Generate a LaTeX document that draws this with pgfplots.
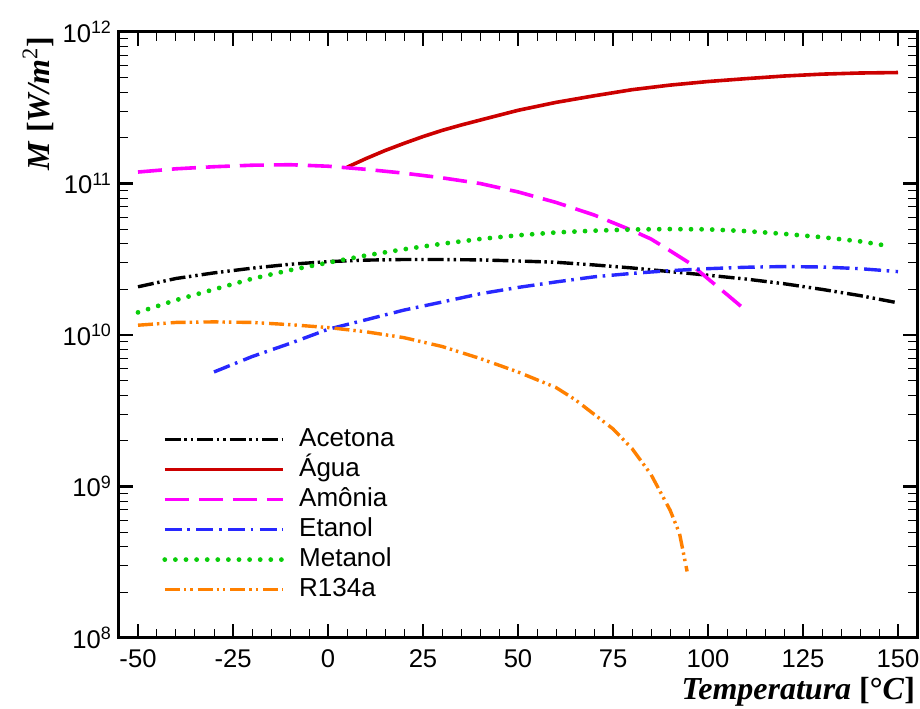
\documentclass[border=0pt]{standalone}
\usepackage{fontspec}
\setmainfont{Liberation Sans}
\newfontfamily\timesfont{Liberation Serif}
\usepackage{pgfplots}
\pgfplotsset{compat=1.18}

\definecolor{cred}{RGB}{204,0,0}
\definecolor{cmag}{RGB}{255,0,255}
\definecolor{cblue}{RGB}{40,40,255}
\definecolor{cgreen}{RGB}{10,205,10}
\definecolor{corange}{RGB}{255,128,0}

\begin{document}
\begin{tikzpicture}
\path[use as bounding box] (-59.5pt,-35pt) rectangle (400.5pt,319pt);
\begin{axis}[
  name=ax, at={(0,0)}, anchor=south west,
  scale only axis, width=399pt, height=303pt,
  ymode=log,
  xmin=-55, xmax=155, ymin=1e8, ymax=1e12,
  xtick={-50,-25,...,150},
  xticklabels={-50,-25,0,25,50,75,100,125,150},
  minor x tick num=4,
  ytick={1e8,1e9,1e10,1e11,1e12},
  yticklabels={10\textsuperscript{8},10\textsuperscript{9},10\textsuperscript{10},10\textsuperscript{11},10\textsuperscript{12}},
  tick label style={font=\fontsize{12.8}{15}\selectfont},
  xticklabel style={yshift=-2.5pt},
  axis line style={line width=1.5pt},
  major tick length=7pt, minor tick length=4.5pt,
  every major tick/.append style={line width=1.2pt, black},
  every minor tick/.append style={line width=0.5pt, black},
  legend cell align=left,
  legend style={draw=none, fill=none, at={(rel axis cs:0,0)}, anchor=south west,
    xshift=18.5pt, yshift=15.5pt, row sep=2pt,
    font=\fontsize{13}{15}\selectfont,
    nodes={inner ysep=0pt, text height=10pt, text depth=3pt},
    /tikz/every odd column/.append style={column sep=5pt}},
  legend image code/.code={\draw[#1] (0pt,0pt) -- (59pt,0pt);},
]
\addplot[black, line width=1.7pt, dash pattern=on 8pt off 1.8pt on 1.2pt off 2pt on 1.2pt off 2pt] coordinates {
(-50,2.08e10) (-40,2.36e10) (-30,2.57e10) (-20,2.76e10) (-10,2.93e10) (0,3.05e10) (10,3.12e10) (20,3.15e10) (30,3.15e10) (40,3.13e10) (50,3.08e10) (60,3.02e10) (70,2.90e10) (80,2.77e10) (90,2.62e10) (100,2.48e10) (110,2.34e10) (120,2.18e10) (130,2.00e10) (140,1.82e10) (150,1.63e10)};
\addlegendentry{Acetona}
\addplot[cred, line width=1.8pt] coordinates {
(5,1.28e11) (10,1.46e11) (15,1.65e11) (20,1.84e11) (25,2.04e11) (30,2.24e11) (35,2.43e11) (40,2.62e11) (50,3.04e11) (60,3.43e11) (70,3.79e11) (80,4.16e11) (90,4.46e11) (100,4.71e11) (110,4.92e11) (120,5.12e11) (130,5.27e11) (140,5.36e11) (150,5.40e11)};
\addlegendentry{Água}
\addplot[cmag, line width=1.8pt, dash pattern=on 12pt off 5pt] coordinates {
(-50,1.19e11) (-40,1.25e11) (-30,1.29e11) (-20,1.32e11) (-10,1.33e11) (0,1.30e11) (10,1.24e11) (20,1.17e11) (30,1.09e11) (40,1.0e11) (50,8.8e10) (60,7.5e10) (70,6.2e10) (80,4.9e10) (85,4.3e10) (90,3.6e10) (95,3.0e10) (100,2.35e10) (105,1.85e10) (110,1.45e10)};
\addlegendentry{Amônia}
\addplot[cblue, line width=1.7pt, dash pattern=on 8.5pt off 2.8pt on 1.3pt off 3.2pt] coordinates {
(-30,5.7e9) (-20,7.2e9) (-10,8.8e9) (0,1.09e10) (10,1.26e10) (20,1.46e10) (30,1.65e10) (40,1.87e10) (50,2.06e10) (60,2.24e10) (70,2.42e10) (80,2.55e10) (90,2.66e10) (100,2.74e10) (110,2.80e10) (120,2.83e10) (130,2.81e10) (140,2.74e10) (150,2.62e10)};
\addlegendentry{Etanol}
\addplot[cgreen, line width=2.4pt, line cap=round, dash pattern=on 0pt off 5.3pt] coordinates {
(-50,1.41e10) (-40,1.70e10) (-30,2.0e10) (-20,2.35e10) (-10,2.68e10) (0,3.0e10) (10,3.35e10) (20,3.68e10) (30,4.0e10) (40,4.3e10) (50,4.55e10) (60,4.75e10) (70,4.88e10) (80,4.97e10) (90,5.0e10) (100,4.98e10) (110,4.85e10) (120,4.65e10) (130,4.42e10) (140,4.15e10) (148,3.85e10)};
\addlegendentry{Metanol}
\addplot[corange, line width=1.7pt, dash pattern=on 7.5pt off 2pt on 1.2pt off 2pt on 1.2pt off 2.5pt] coordinates {
(-50,1.16e10) (-40,1.21e10) (-30,1.22e10) (-20,1.21e10) (-10,1.17e10) (0,1.12e10) (10,1.05e10) (20,9.6e9) (30,8.4e9) (40,7.0e9) (50,5.7e9) (60,4.5e9) (65,3.75e9) (70,3.0e9) (75,2.4e9) (80,1.78e9) (85,1.2e9) (90,7.0e8) (92.5,4.9e8) (94.5,2.75e8)};
\addlegendentry{R134a}
\end{axis}
\node[rotate=90, anchor=base east, font=\timesfont\fontsize{16}{18}\selectfont]
  at ([xshift=-34.5pt, yshift=1pt]ax.north west)
  {\textbf{\textit{M}} \textbf{[}\textbf{\textit{W/m}}\textsuperscript{2}\textbf{]}};
\node[anchor=base east, font=\timesfont\fontsize{16}{18}\selectfont]
  at ([xshift=2.5pt, yshift=-30.5pt]ax.south east)
  {\textbf{\textit{Temperatura}} \textbf{[°\textit{C}]}};
\end{tikzpicture}
\end{document}
